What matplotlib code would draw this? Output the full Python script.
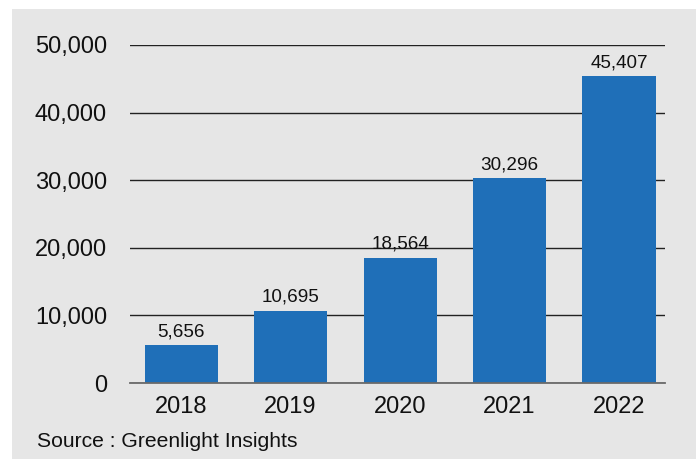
import matplotlib
matplotlib.use('Agg')
import matplotlib.pyplot as plt
from matplotlib.patches import Rectangle
from matplotlib.ticker import FuncFormatter

years = ['2018', '2019', '2020', '2021', '2022']
values = [5656, 10695, 18564, 30296, 45407]
y_ticks = [0, 10000, 20000, 30000, 40000, 50000]

plt.rcParams['font.family'] = ['Liberation Sans', 'DejaVu Sans']

fig = plt.figure(figsize=(6.96, 4.61), dpi=100, facecolor='white')
# grey panel behind everything
fig.patches.append(Rectangle((12 / 696, 1 - 459 / 461), 684 / 696, 450 / 461,
                             transform=fig.transFigure, facecolor='#e6e6e6',
                             edgecolor='none', zorder=-5))

ax = fig.add_axes([130 / 696, 1 - 383 / 461, 535 / 696, 338 / 461])
ax.set_facecolor('none')
ax.set_zorder(2)

x = range(len(years))
bars = ax.bar(x, values, width=0.667, color='#1f6fb8', zorder=3)
for xi, v in zip(x, values):
    ax.text(xi, v + 700, f'{v:,}', ha='center', va='bottom', fontsize=13.6, color='#111111')

ax.set_ylim(0, 50000)
ax.set_xlim(-0.466, 4.42)
ax.set_yticks(y_ticks)
ax.yaxis.set_major_formatter(FuncFormatter(lambda v, p: f'{int(v):,}'))
ax.set_xticks(list(x))
ax.set_xticklabels(years)
ax.tick_params(axis='y', length=0, pad=16.5, labelsize=17, labelcolor='#111111')
ax.tick_params(axis='x', length=0, pad=9, labelsize=17, labelcolor='#111111')
ax.grid(axis='y', color='#222222', linewidth=1, zorder=1)
for s in ax.spines.values():
    s.set_visible(False)
ax.spines['bottom'].set_visible(True)
ax.spines['bottom'].set_color('#6a6a6a')
ax.spines['bottom'].set_linewidth(1.3)
ax.spines['bottom'].set_zorder(4)

fig.text(37 / 696, 1 - 447 / 461, 'Source : Greenlight Insights', fontsize=15.2,
         color='#111111', ha='left', va='baseline')

fig.savefig('out.png', dpi=100, facecolor='white')
